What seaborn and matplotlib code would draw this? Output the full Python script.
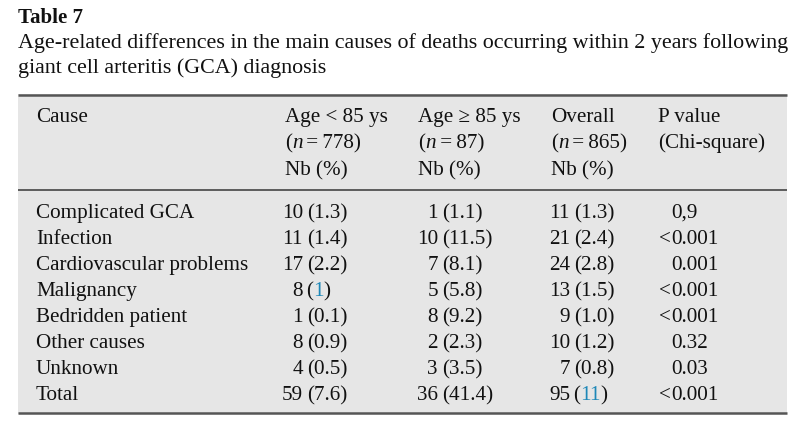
import matplotlib
matplotlib.use("Agg")
import matplotlib.pyplot as plt
import seaborn as sns
from matplotlib.patches import Rectangle

# table content
causes = ["Complicated GCA", "Infection", "Cardiovascular problems", "Malignancy",
          "Bedridden patient", "Other causes", "Unknown", "Total"]
young_nb = [10, 11, 17, 8, 1, 8, 4, 59]
young_pct = ["1.3", "1.4", "2.2", "1", "0.1", "0.9", "0.5", "7.6"]
old_nb = [1, 10, 7, 5, 8, 2, 3, 36]
old_pct = ["1.1", "11.5", "8.1", "5.8", "9.2", "2.3", "3.5", "41.4"]
overall_nb = [11, 21, 24, 13, 9, 10, 7, 95]
overall_pct = ["1.3", "2.4", "2.8", "1.5", "1.0", "1.2", "0.8", "11"]
p_values = ["0,9", "<0.001", "0.001", "<0.001", "<0.001", "0.32", "0.03", "<0.001"]
# cells whose percentage is printed as a (blue) link
linked = {("young", 3), ("overall", 7)}

title = "Table 7"
caption = ["Age-related differences in the main causes of deaths occurring within 2 years following",
           "giant cell arteritis (GCA) diagnosis"]
headers = [
    ("Cause", None, None),
    ("Age < 85 ys", "778", "Nb (%)"),
    ("Age \u2265 85 ys", "87", "Nb (%)"),
    ("Overall", "865", "Nb (%)"),
    ("P value", "(Chi-square)", None),
]

sns.set_style("white")
plt.rcParams["font.family"] = ["Liberation Serif", "DejaVu Serif"]

BLACK = "#111111"
BLUE = "#1e88b8"
FS = 15.2

fig = plt.figure(figsize=(8, 4.32), dpi=100)
ax = fig.add_axes([0, 0, 1, 1])
ax.set_xlim(0, 800)
ax.set_ylim(432, 0)
ax.axis("off")
renderer = fig.canvas.get_renderer()


def text_right_edge(x, y, s, **kw):
    """x (data units) where the string s drawn at x ends"""
    t = ax.text(x, y, s, fontsize=FS, va="baseline", **kw)
    bb = t.get_window_extent(renderer)
    t.remove()
    return ax.transData.inverted().transform((bb.x1, 0))[0]


def colored_parts(x, y, parts):
    """draw (text, color, style) pieces, placing each from the width of the prefix"""
    prefix = ""
    for s, c, st in parts:
        px = x if not prefix else text_right_edge(x, y, prefix)
        ax.text(px, y, s, fontsize=FS, color=c, fontstyle=st, ha="left", va="baseline")
        prefix += s


# caption
ax.text(18, 23, title, fontsize=15, fontweight="bold", color=BLACK, va="baseline")
ax.text(18, 48, caption[0], fontsize=15.8, color=BLACK, va="baseline")
ax.text(18, 73, caption[1], fontsize=15.8, color=BLACK, va="baseline")

# table frame
ax.add_patch(Rectangle((18, 94), 769, 320, facecolor="#e6e6e6", edgecolor="none", zorder=0))
ax.plot([18, 787], [94.5, 94.5], color="#555555", lw=1.8, solid_capstyle="butt")
ax.plot([18, 787], [189.5, 189.5], color="#444444", lw=1.2, solid_capstyle="butt")
ax.plot([18, 787], [412.5, 412.5], color="#555555", lw=1.8, solid_capstyle="butt")

# header
head_x = [36, 285, 418, 551, 658]
head_y = [122, 148, 175]
for hx, (l1, l2, l3) in zip(head_x, headers):
    ax.text(hx, head_y[0], l1, fontsize=FS, color=BLACK, va="baseline")
    if l2 is not None:
        if l2.startswith("("):
            ax.text(hx, head_y[1], l2, fontsize=FS, color=BLACK, va="baseline")
        else:
            colored_parts(hx, head_y[1], [("(", BLACK, "normal"), ("n", BLACK, "italic"),
                                          ("\u2009=\u2009" + l2 + ")", BLACK, "normal")])
    if l3 is not None:
        ax.text(hx, head_y[2], l3, fontsize=FS, color=BLACK, va="baseline")

# body
row0, step = 218, 26
cols = [("young", young_nb, young_pct, 307),
        ("old", old_nb, old_pct, 442),
        ("overall", overall_nb, overall_pct, 574)]
for i, cause in enumerate(causes):
    y = row0 + i * step
    ax.text(36, y, cause, fontsize=FS, color=BLACK, va="baseline")
    for key, nbs, pcts, px in cols:
        ax.text(px - 4, y, str(nbs[i]), fontsize=FS, color=BLACK, ha="right", va="baseline")
        if (key, i) in linked:
            colored_parts(px - 1, y, [("(", BLACK, "normal"), (pcts[i], BLUE, "normal"),
                                      (")", BLACK, "normal")])
        else:
            ax.text(px, y, "(" + pcts[i] + ")", fontsize=FS, color=BLACK, va="baseline")
    p = p_values[i]
    if p.startswith("<"):
        ax.text(671, y, "<", fontsize=FS, color=BLACK, ha="right", va="baseline")
        p = p[1:]
    ax.text(671, y, p, fontsize=FS, color=BLACK, ha="left", va="baseline")

fig.savefig("out.png", dpi=100)
